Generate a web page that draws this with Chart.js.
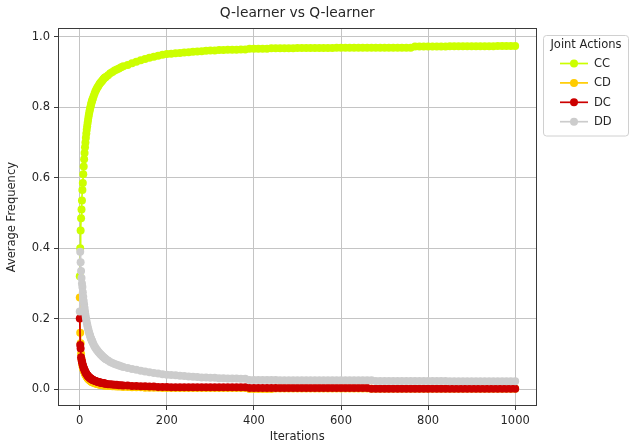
<!DOCTYPE html>
<html>
<head>
<meta charset="utf-8">
<script src="https://cdn.jsdelivr.net/npm/chart.js@4"></script>
<style>
  html, body { margin: 0; padding: 0; background: #fff; }
  #wrap { width: 629px; height: 447px; }
</style>
</head>
<body>
<div id="wrap"><canvas id="qchart" width="629" height="447"></canvas></div>
<script>
const iterations = [
  0, 1, 2, 3, 4, 5, 6, 7, 8, 9, 10, 11, 12, 13, 14, 15, 16, 17, 18, 19, 20,
  21, 22, 23, 24, 25, 26, 27, 28, 29, 30,
  32, 34, 36, 38, 40, 42, 44, 46, 48, 50, 52, 54, 56, 58, 60,
  65, 70, 75, 80, 85, 90, 95, 100,
  110, 120, 130, 140, 150, 160, 170, 180, 190, 200,
  210, 220, 230, 240, 250, 260, 270, 280, 290, 300,
  310, 320, 330, 340, 350, 360, 370, 380, 390, 400,
  410, 420, 430, 440, 450, 460, 470, 480, 490, 500,
  510, 520, 530, 540, 550, 560, 570, 580, 590, 600,
  610, 620, 630, 640, 650, 660, 670, 680, 690, 700,
  710, 720, 730, 740, 750, 760, 770, 780, 790, 800,
  810, 820, 830, 840, 850, 860, 870, 880, 890, 900,
  910, 920, 930, 940, 950, 960, 970, 980, 990, 1000
];

const ccValues = [
  0.32, 0.40, 0.45, 0.485, 0.51, 0.535, 0.565, 0.585, 0.61, 0.632, 0.652,
  0.67, 0.686, 0.70, 0.713, 0.725, 0.736, 0.746, 0.755, 0.764, 0.772,
  0.779, 0.786, 0.792, 0.798, 0.803, 0.808, 0.813, 0.817, 0.821, 0.825,
  0.832, 0.839, 0.845, 0.850, 0.855, 0.859, 0.863, 0.867, 0.870, 0.873, 0.876, 0.879, 0.882, 0.884, 0.886,
  0.891, 0.896, 0.900, 0.904, 0.907, 0.910, 0.913, 0.916,
  0.920, 0.925, 0.929, 0.933, 0.937, 0.940, 0.943, 0.946, 0.949, 0.951,
  0.952, 0.953, 0.954, 0.955, 0.956, 0.957, 0.958, 0.959, 0.960, 0.961,
  0.961, 0.962, 0.962, 0.963, 0.963, 0.963, 0.964, 0.964, 0.966, 0.966,
  0.966, 0.966, 0.966, 0.967, 0.967, 0.967, 0.967, 0.967, 0.967, 0.968,
  0.968, 0.968, 0.968, 0.968, 0.968, 0.968, 0.968, 0.968, 0.969, 0.969,
  0.969, 0.969, 0.969, 0.969, 0.969, 0.969, 0.969, 0.969, 0.969, 0.969,
  0.969, 0.969, 0.969, 0.969, 0.969, 0.969, 0.972, 0.972, 0.972, 0.972,
  0.972, 0.972, 0.972, 0.972, 0.973, 0.973, 0.973, 0.973, 0.973, 0.973,
  0.973, 0.973, 0.973, 0.973, 0.973, 0.974, 0.974, 0.974, 0.974, 0.974
];

const cdValues = [
  0.26, 0.16, 0.13, 0.10, 0.085, 0.075, 0.068, 0.062, 0.057, 0.053, 0.050,
  0.047, 0.044, 0.041, 0.039, 0.037, 0.035, 0.033, 0.031, 0.030, 0.028,
  0.027, 0.026, 0.025, 0.024, 0.023, 0.022, 0.021, 0.020, 0.020, 0.019,
  0.018, 0.017, 0.016, 0.015, 0.015, 0.014, 0.013, 0.013, 0.012, 0.012, 0.011, 0.011, 0.010, 0.010, 0.010,
  0.009, 0.009, 0.008, 0.008, 0.007, 0.007, 0.007, 0.006,
  0.006, 0.005, 0.005, 0.005, 0.004, 0.004, 0.004, 0.004, 0.003, 0.003,
  0.003, 0.003, 0.003, 0.003, 0.003, 0.003, 0.003, 0.003, 0.003, 0.003,
  0.003, 0.003, 0.003, 0.003, 0.003, 0.003, 0.003, 0.003, 0.000, 0.000,
  0.000, 0.000, 0.000, 0.000, 0.002, 0.002, 0.002, 0.002, 0.002, 0.002,
  0.002, 0.002, 0.002, 0.002, 0.002, 0.002, 0.002, 0.002, 0.002, 0.002,
  0.002, 0.002, 0.002, 0.002, 0.002, 0.002, 0.001, 0.001, 0.001, 0.001,
  0.001, 0.001, 0.001, 0.001, 0.001, 0.001, 0.001, 0.001, 0.001, 0.001,
  0.001, 0.001, 0.001, 0.001, 0.001, 0.001, 0.001, 0.001, 0.001, 0.001,
  0.001, 0.001, 0.001, 0.001, 0.001, 0.001, 0.001, 0.001, 0.001, 0.001
];

const dcValues = [
  0.20, 0.125, 0.115, 0.09, 0.083, 0.078, 0.073, 0.068, 0.064, 0.060, 0.057,
  0.054, 0.051, 0.048, 0.046, 0.044, 0.042, 0.040, 0.038, 0.037, 0.035,
  0.034, 0.033, 0.032, 0.031, 0.030, 0.029, 0.028, 0.027, 0.027, 0.026,
  0.025, 0.024, 0.023, 0.022, 0.021, 0.020, 0.020, 0.019, 0.018, 0.018, 0.017, 0.017, 0.016, 0.016, 0.015,
  0.014, 0.014, 0.013, 0.012, 0.012, 0.011, 0.011, 0.010,
  0.010, 0.009, 0.009, 0.008, 0.008, 0.007, 0.007, 0.006, 0.006, 0.006,
  0.005, 0.005, 0.005, 0.005, 0.005, 0.005, 0.005, 0.005, 0.005, 0.005,
  0.005, 0.005, 0.005, 0.005, 0.005, 0.005, 0.005, 0.005, 0.003, 0.003,
  0.003, 0.003, 0.003, 0.003, 0.003, 0.003, 0.003, 0.003, 0.003, 0.003,
  0.003, 0.003, 0.003, 0.003, 0.003, 0.003, 0.003, 0.003, 0.003, 0.003,
  0.003, 0.003, 0.003, 0.003, 0.003, 0.003, 0.001, 0.001, 0.001, 0.001,
  0.001, 0.001, 0.001, 0.001, 0.001, 0.001, 0.001, 0.001, 0.001, 0.001,
  0.001, 0.001, 0.001, 0.001, 0.001, 0.001, 0.001, 0.001, 0.001, 0.001,
  0.001, 0.001, 0.001, 0.001, 0.001, 0.001, 0.001, 0.001, 0.001, 0.001
];

const ddValues = [
  0.22, 0.39, 0.36, 0.335, 0.315, 0.30, 0.29, 0.275, 0.262, 0.25, 0.24,
  0.23, 0.22, 0.211, 0.203, 0.196, 0.189, 0.183, 0.177, 0.172, 0.167,
  0.162, 0.158, 0.154, 0.150, 0.146, 0.143, 0.140, 0.137, 0.134, 0.131,
  0.126, 0.121, 0.117, 0.113, 0.110, 0.107, 0.104, 0.101, 0.098, 0.096, 0.093, 0.091, 0.089, 0.087, 0.085,
  0.081, 0.077, 0.074, 0.071, 0.069, 0.067, 0.065, 0.063,
  0.060, 0.057, 0.055, 0.052, 0.050, 0.048, 0.046, 0.044, 0.042, 0.041,
  0.040, 0.039, 0.038, 0.037, 0.036, 0.035, 0.034, 0.033, 0.033, 0.032,
  0.032, 0.031, 0.031, 0.030, 0.030, 0.030, 0.029, 0.029, 0.026, 0.026,
  0.026, 0.026, 0.026, 0.026, 0.026, 0.025, 0.025, 0.025, 0.025, 0.025,
  0.025, 0.025, 0.025, 0.025, 0.025, 0.025, 0.025, 0.025, 0.025, 0.025,
  0.025, 0.025, 0.025, 0.025, 0.025, 0.025, 0.025, 0.023, 0.023, 0.023,
  0.023, 0.023, 0.023, 0.023, 0.023, 0.023, 0.023, 0.023, 0.023, 0.023,
  0.023, 0.023, 0.023, 0.023, 0.022, 0.022, 0.022, 0.022, 0.022, 0.022,
  0.022, 0.022, 0.022, 0.022, 0.022, 0.022, 0.022, 0.022, 0.022, 0.022
];

const seriesLabels = ['CC', 'CD', 'DC', 'DD'];
const seriesColors = ['#ccff00', '#ffcc00', '#cc0000', '#cccccc'];
const xTicks = [0, 200, 400, 600, 800, 1000];
const yTicks = [0, 0.2, 0.4, 0.6, 0.8, 1.0];

const FONT = '"DejaVu Sans", "Liberation Sans", sans-serif';
const TEXT = '#262626';

function toPoints(values) {
  return iterations.map((it, i) => ({ x: it, y: values[i] }));
}

const allValues = [ccValues, cdValues, dcValues, ddValues];

// matplotlib draws later series on top: lower "order" = drawn last in Chart.js
const datasets = seriesLabels.map((name, i) => ({
  label: name,
  data: toPoints(allValues[i]),
  borderColor: seriesColors[i],
  backgroundColor: seriesColors[i],
  pointBackgroundColor: seriesColors[i],
  pointBorderColor: seriesColors[i],
  borderWidth: 1.7,
  pointRadius: 4,
  pointBorderWidth: 0,
  pointHoverRadius: 4,
  tension: 0,
  fill: false,
  order: seriesLabels.length - 1 - i
}));

// axes frame on all four sides, over the data like matplotlib's spines
const framePlugin = {
  id: 'frame',
  afterDatasetsDraw(chart) {
    const { ctx, chartArea: a } = chart;
    ctx.save();
    ctx.strokeStyle = '#3a3a3a';
    ctx.lineWidth = 1;
    ctx.strokeRect(Math.round(a.left) + 0.5, Math.round(a.top) + 0.5,
      Math.round(a.right - a.left) - 1, Math.round(a.bottom - a.top) - 1);
    ctx.restore();
  }
};

// legend box outside the plot on the right, with a title
const sideLegend = {
  id: 'sideLegend',
  afterDraw(chart) {
    const ctx = chart.ctx;
    const box = { x: 543.5, y: 35.5, w: 85, h: 100.5 };
    ctx.save();
    ctx.fillStyle = 'rgba(255,255,255,0.8)';
    ctx.strokeStyle = '#d0d0d0';
    ctx.lineWidth = 1;
    ctx.beginPath();
    ctx.roundRect(box.x, box.y, box.w, box.h, 3);
    ctx.fill();
    ctx.stroke();

    ctx.fillStyle = TEXT;
    ctx.font = '11.5px ' + FONT;
    ctx.textBaseline = 'middle';
    ctx.textAlign = 'center';
    ctx.fillText('Joint Actions', box.x + box.w / 2, 45.5);

    ctx.textAlign = 'left';
    chart.data.datasets.forEach((ds, i) => {
      const y = 63.5 + i * 19.4;
      ctx.strokeStyle = ds.borderColor;
      ctx.lineWidth = 1.7;
      ctx.beginPath();
      ctx.moveTo(560, y);
      ctx.lineTo(588, y);
      ctx.stroke();
      ctx.fillStyle = ds.pointBackgroundColor;
      ctx.beginPath();
      ctx.arc(574, y, 4, 0, Math.PI * 2);
      ctx.fill();
      ctx.fillStyle = TEXT;
      ctx.fillText(ds.label, 594, y + 0.5);
    });
    ctx.restore();
  }
};

new Chart(document.getElementById('qchart'), {
  type: 'line',
  data: { datasets },
  options: {
    responsive: false,
    animation: false,
    layout: { padding: { left: 0, right: 92.5, top: 0, bottom: 0 } },
    plugins: {
      legend: { display: false },
      tooltip: { enabled: false },
      title: {
        display: true,
        text: 'Q-learner vs Q-learner',
        fullSize: false,
        color: TEXT,
        font: { family: FONT, size: 13.8, weight: 'normal' },
        padding: { top: 5, bottom: 6.7 }
      }
    },
    scales: {
      x: {
        type: 'linear',
        min: -50,
        max: 1049,
        afterBuildTicks: s => { s.ticks = xTicks.map(v => ({ value: v })); },
        afterFit: s => { s.height = 41; },
        ticks: {
          color: TEXT,
          font: { family: FONT, size: 11.5 },
          padding: 4,
          maxRotation: 0,
          callback: v => String(v)
        },
        grid: { color: '#c4c4c4', lineWidth: 1, tickLength: 4, tickColor: '#3a3a3a', drawTicks: true },
        border: { display: false },
        title: {
          display: true,
          text: 'Iterations',
          color: TEXT,
          font: { family: FONT, size: 11.5 },
          padding: { top: 0, bottom: 3.3 }
        }
      },
      y: {
        type: 'linear',
        min: -0.048,
        max: 1.024,
        afterBuildTicks: s => { s.ticks = yTicks.map(v => ({ value: v })); },
        afterFit: s => { s.width = 58; },
        ticks: {
          color: TEXT,
          font: { family: FONT, size: 11.5 },
          padding: 4,
          callback: v => Number(v).toFixed(1)
        },
        grid: { color: '#c4c4c4', lineWidth: 1, tickLength: 4, tickColor: '#3a3a3a', drawTicks: true },
        border: { display: false },
        title: {
          display: true,
          text: 'Average Frequency',
          color: TEXT,
          font: { family: FONT, size: 11.5 },
          padding: { top: 5.3, bottom: 0 }
        }
      }
    }
  },
  plugins: [framePlugin, sideLegend]
});
</script>
</body>
</html>
